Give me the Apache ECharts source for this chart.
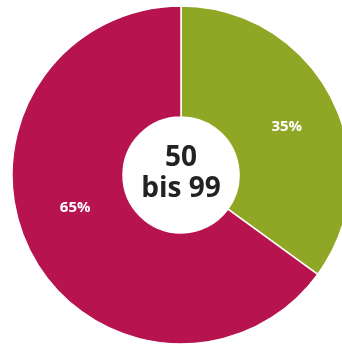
<!DOCTYPE html>
<html>
<head>
<meta charset="utf-8">
<script src="https://cdn.jsdelivr.net/npm/echarts@6/dist/echarts.min.js"></script>
<style>
  html, body { margin: 0; padding: 0; background: #ffffff; }
  #chart { width: 342px; height: 345px; }
</style>
</head>
<body>
<div id="chart"></div>
<script>
// Share of companies, size class 50 to 99 employees
const categories = ['A', 'B'];
const values = [35, 65];
const colors = ['#8fa725', '#b7134f'];
const centerLines = ['50', 'bis 99'];

const chart = echarts.init(document.getElementById('chart'), null, { renderer: 'canvas' });

const labelOffsets = [[2, 5], [-2, -20]];

chart.setOption({
  animation: false,
  backgroundColor: '#ffffff',
  series: [{
    type: 'pie',
    center: [181, 175],
    radius: [58, 169],
    startAngle: 90,
    clockwise: true,
    silent: true,
    itemStyle: { borderColor: '#ffffff', borderWidth: 1.5 },
    label: {
      position: 'inside',
      color: '#ffffff',
      fontFamily: 'Open Sans',
      fontWeight: 'bold',
      fontSize: 15,
      formatter: p => p.value + '%'
    },
    labelLine: { show: false },
    data: categories.map((c, i) => ({
      name: c,
      value: values[i],
      itemStyle: { color: colors[i] },
      label: { offset: labelOffsets[i] }
    }))
  }],
  graphic: [{
    type: 'text',
    x: 181,
    y: 174,
    style: {
      text: centerLines.join('\n'),
      x: 0, y: 0,
      align: 'center',
      verticalAlign: 'middle',
      fill: '#222222',
      font: 'bold 28px "Open Sans"',
      lineHeight: 31
    }
  }]
});
</script>
</body>
</html>
